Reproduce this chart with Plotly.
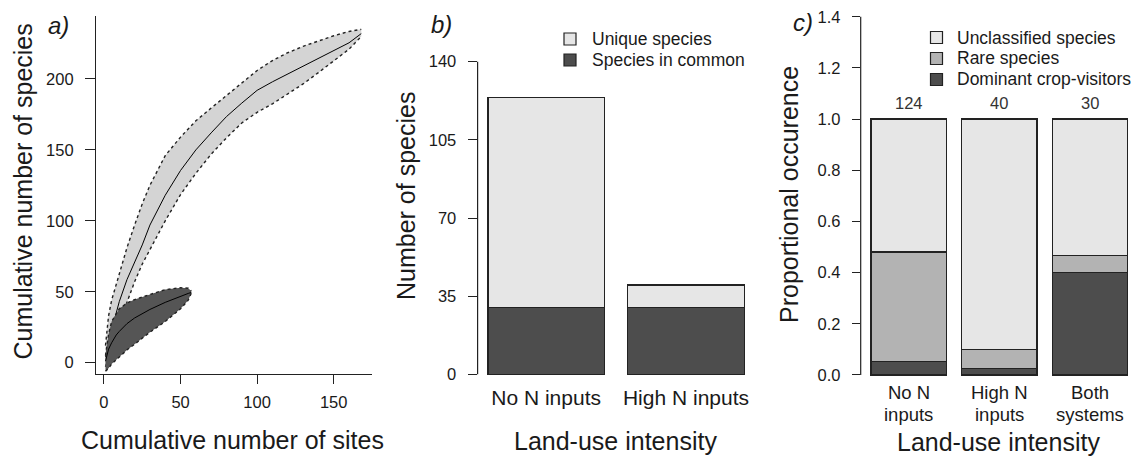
import plotly.graph_objects as go

W, H = 1131, 456
FONT = "Liberation Sans, Arial, sans-serif"
TXT = "#1a1a1a"

# ---------------- Panel a data (species accumulation) ----------------
sites_light = [1, 3, 5, 10, 15, 20, 25, 30, 40, 50, 60, 70, 80, 90, 100, 110, 120, 130, 140, 150, 160, 168]
mean_light = [4, 15, 23, 43, 58.5, 70.5, 83, 97, 118, 135.5, 150, 162, 173.5, 183, 192, 198, 203.5, 209, 214, 219.5, 225.5, 232]
upper_light = [12, 33, 44, 63, 81, 97, 112, 125, 146, 159, 170.5, 179.5, 188.5, 197, 206, 213, 218.5, 223, 227, 230.5, 233.5, 235]
lower_light = [-3, 5, 12, 28, 42, 57, 69.5, 80, 100, 118.5, 133.5, 147, 158.5, 169, 176.5, 182.5, 189.5, 196.5, 204.5, 212.5, 221, 230]

sites_dark = [1, 3, 5, 8, 10, 15, 20, 30, 40, 50, 55, 57]
mean_dark = [1, 9.5, 14, 19.5, 22, 27.5, 31.5, 37.5, 42.5, 47, 48.8, 49.5]
upper_dark = [5, 20, 29, 35, 38, 42, 44.5, 48, 51.5, 52.8, 52.5, 50.5]
lower_dark = [-6, -4, -1, 2, 4, 9, 13, 21.5, 29, 38, 44, 49]

ticks_a_x = [0, 50, 100, 150]
ticks_a_y = [0, 50, 100, 150, 200]

# ---------------- Panel b data ----------------
cats_b = ["No N inputs", "High N inputs"]
series_b = ["Species in common", "Unique species"]
common_b = [30, 30]
unique_b = [94, 10]
ticks_b_y = [0, 35, 70, 105, 140]

# ---------------- Panel c data ----------------
cats_c_line1 = ["No N", "High N", "Both"]
cats_c_line2 = ["inputs", "inputs", "systems"]
series_c = ["Dominant crop-visitors", "Rare species", "Unclassified species"]
totals_c = [124, 40, 30]
dominant_c = [0.054, 0.025, 0.400]
rare_c = [0.427, 0.075, 0.067]
unclassified_c = [0.519, 0.900, 0.533]
ticks_c_y = [0.0, 0.2, 0.4, 0.6, 0.8, 1.0, 1.2, 1.4]

LIGHT = "#e6e6e6"
MID = "#b3b3b3"
DARK = "#4d4d4d"
BAND_LIGHT = "#d4d4d4"
BAND_DARK = "#555555"
EDGE = "#222222"


def px_x(p):
    return p / W


def px_y(p):
    return (H - p) / H


fig = go.Figure()

# ---- panel a bands ----
for xs, m, up, lo, fillc in [
    (sites_light, mean_light, upper_light, lower_light, BAND_LIGHT),
    (sites_dark, mean_dark, upper_dark, lower_dark, BAND_DARK),
]:
    fig.add_trace(go.Scatter(x=xs + xs[::-1], y=up + lo[::-1], fill="toself",
                             fillcolor=fillc, line=dict(width=0), mode="lines",
                             showlegend=False, hoverinfo="skip", xaxis="x", yaxis="y"))
    for edge in (up, lo):
        fig.add_trace(go.Scatter(x=xs, y=edge, mode="lines",
                                 line=dict(color=EDGE, width=1.4, dash="dot"),
                                 showlegend=False, xaxis="x", yaxis="y"))
    fig.add_trace(go.Scatter(x=xs, y=m, mode="lines", line=dict(color="black", width=1),
                             showlegend=False, xaxis="x", yaxis="y"))

# ---- panel b bars ----
pos_b = [0.7, 1.9]
colors_b = [DARK, LIGHT]
for vals, nm, col in zip([common_b, unique_b], series_b, colors_b):
    fig.add_trace(go.Bar(x=pos_b, y=vals, width=1, name=nm, showlegend=False,
                         marker=dict(color=col, line=dict(color=EDGE, width=1.3)),
                         xaxis="x2", yaxis="y2"))

# ---- panel c bars ----
pos_c = [0.7, 1.9, 3.1]
colors_c = [DARK, MID, LIGHT]
for vals, nm, col in zip([dominant_c, rare_c, unclassified_c], series_c, colors_c):
    fig.add_trace(go.Bar(x=pos_c, y=vals, width=1, name=nm, showlegend=False,
                         marker=dict(color=col, line=dict(color=EDGE, width=1.3)),
                         xaxis="x3", yaxis="y3"))

tickfont = dict(family=FONT, size=16.5, color=TXT)
common_axis = dict(showgrid=False, zeroline=False, ticks="outside", tickcolor=EDGE,
                   tickwidth=1.2, tickfont=tickfont, fixedrange=True)

fig.update_layout(
    width=W, height=H, margin=dict(l=0, r=0, t=0, b=0),
    paper_bgcolor="white", plot_bgcolor="white",
    barmode="stack", font=dict(family=FONT, color=TXT), showlegend=False,
    xaxis=dict(domain=[px_x(96), px_x(372)], range=[-5.2, 175], tickvals=ticks_a_x,
               showline=True, linecolor=EDGE, linewidth=1.2, ticklen=9,
               ticklabelstandoff=4, anchor="y", **common_axis),
    yaxis=dict(domain=[px_y(374), px_y(16)], range=[-8, 244.4], tickvals=ticks_a_y,
               showline=True, linecolor=EDGE, linewidth=1.2, ticklen=10,
               ticklabelstandoff=8, anchor="x", **common_axis),
    xaxis2=dict(domain=[px_x(477.6), px_x(754.5)], range=[0.112, 2.488], tickvals=pos_b,
                ticktext=cats_b, showline=False, ticks="", anchor="free",
                position=px_y(381),
                tickfont=dict(family=FONT, size=21, color=TXT),
                showgrid=False, zeroline=False, fixedrange=True, ticklabelstandoff=2),
    yaxis2=dict(domain=[px_y(386.8), px_y(49.2)], range=[-5.6, 145.6], tickvals=ticks_b_y,
                showline=False, ticklen=9, ticklabelstandoff=8, anchor="x2", **common_axis),
    xaxis3=dict(domain=[px_x(860.7), 1.0], range=[0.064, 0.064 + (W - 860.7) / 75.5],
                tickvals=pos_c, showticklabels=False, ticks="", showline=False,
                showgrid=False, zeroline=False, anchor="y3", fixedrange=True),
    yaxis3=dict(domain=[px_y(389.3), px_y(2.4)], range=[-0.056, 1.456], tickvals=ticks_c_y,
                tickformat=".1f", showline=False, ticklen=8, ticklabelstandoff=8,
                anchor="x3", **common_axis),
)

# R-style axis lines spanning only the tick range (panels b and c)
fig.add_shape(type="line", xref="x2 domain", yref="y2", x0=0, x1=0,
              y0=ticks_b_y[0], y1=ticks_b_y[-1], line=dict(color=EDGE, width=1.2))
fig.add_shape(type="line", xref="x3 domain", yref="y3", x0=0, x1=0,
              y0=ticks_c_y[0], y1=ticks_c_y[-1], line=dict(color=EDGE, width=1.2))

ann = []


def legend_block(names, colors, sq_x, text_x, row_y):
    for nm, col, yy in zip(names, colors, row_y):
        fig.add_shape(type="rect", xref="paper", yref="paper",
                      x0=px_x(sq_x - 6), x1=px_x(sq_x + 6), y0=px_y(yy + 6), y1=px_y(yy - 6),
                      fillcolor=col, line=dict(color=EDGE, width=1.2))
        ann.append(dict(x=px_x(text_x), y=px_y(yy), xref="paper", yref="paper", text=nm,
                        showarrow=False, xanchor="left", yanchor="middle",
                        font=dict(family=FONT, size=17.5, color=TXT)))


# legends (top entry = top of stack)
legend_block(series_b[::-1], colors_b[::-1], 570, 590, [39, 60])
legend_block(series_c[::-1], colors_c[::-1], 936.5, 955, [37.5, 58.5, 79.5])

# totals above bars in c
for p, t in zip(pos_c, totals_c):
    ann.append(dict(x=p, y=1.062, xref="x3", yref="y3", text=str(t), showarrow=False,
                    font=dict(family=FONT, size=16.5, color="#333")))
# two-line category labels in c (tight line spacing)
for p, l1, l2 in zip(pos_c, cats_c_line1, cats_c_line2):
    ann.append(dict(x=p, y=px_y(392.5), xref="x3", yref="paper", text=l1, showarrow=False,
                    yanchor="middle", font=dict(family=FONT, size=18.5, color=TXT)))
    ann.append(dict(x=p, y=px_y(414), xref="x3", yref="paper", text=l2, showarrow=False,
                    yanchor="middle", font=dict(family=FONT, size=18.5, color=TXT)))

title_font = dict(family=FONT, size=25, color=TXT)
titles = [
    ("Cumulative number of sites", 232, 440, 0),
    ("Cumulative number of species", 23, 191.5, -90),
    ("Land-use intensity", 615, 441, 0),
    ("Number of species", 406, 196, -90),
    ("Land-use intensity", 998, 442, 0),
    ("Proportional occurence", 789, 195, -90),
]
for t, xx, yy, ang in titles:
    ann.append(dict(x=px_x(xx), y=px_y(yy), xref="paper", yref="paper", text=t,
                    showarrow=False, textangle=ang, xanchor="center", yanchor="middle",
                    font=title_font))

for t, xx, yy in [("a)", 58, 25), ("b)", 441, 24), ("c)", 803, 23)]:
    ann.append(dict(x=px_x(xx), y=px_y(yy), xref="paper", yref="paper", text="<i>" + t + "</i>",
                    showarrow=False, xanchor="center", yanchor="middle",
                    font=dict(family=FONT, size=24, color=TXT)))

fig.update_layout(annotations=ann)

fig.write_html("out.html", config={"displayModeBar": False},
               post_script="document.body.style.margin='0';document.body.style.overflow='hidden';")
